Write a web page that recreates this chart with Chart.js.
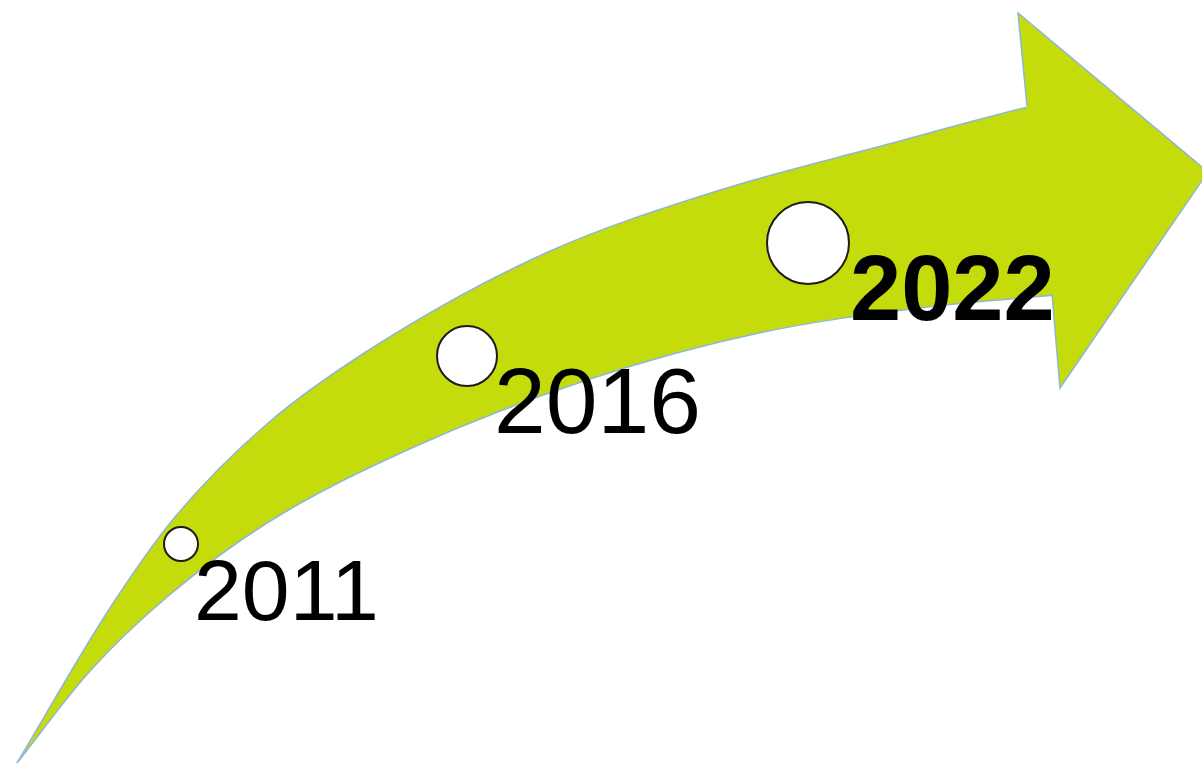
<!DOCTYPE html>
<html>
<head>
<meta charset="utf-8">
<script src="https://cdn.jsdelivr.net/npm/chart.js@4/dist/chart.umd.min.js"></script>
<style>
  html, body { margin: 0; padding: 0; background: #fff; }
  #wrap { width: 1202px; height: 765px; }
</style>
</head>
<body>
<div id="wrap"><canvas id="c" width="1202" height="765"></canvas></div>
<script>
// 弧形箭头的上下边缘（画面坐标，y 向下）
const upperEdgeX = [17, 110, 175, 267, 380, 548, 717, 885, 1028, 1056];
const upperEdgeY = [763, 608, 517, 424, 343, 252, 191, 145, 107, 101];
const lowerEdgeX = [17, 90, 167, 267, 414, 590, 759, 927, 1056];
const lowerEdgeY = [763, 671, 597, 523, 447, 379, 333, 307, 295];

// 箭头头部（多边形）
const headX = [1052, 1060, 1208, 1018, 1027];
const headY = [294, 388, 172, 13, 106];

// 时间节点
const years   = ["2011", "2016", "2022"];
const dotX    = [181, 467, 808];
const dotY    = [544, 356, 243];
const labelX  = [194, 494, 850];
const labelY  = [620, 433, 320];

const GREEN = "#c4dc0b";
const EDGE  = "#8fb6d6";
const BOTTOM = 765;

const toPoints = (xs, ys) => xs.map((x, i) => ({ x, y: ys[i] }));

/** 年份文字：按数据坐标经 scale 换算后绘制 */
const yearLabels = {
  id: "yearLabels",
  afterDatasetsDraw(chart) {
    const { ctx, scales } = chart;
    const fonts = ["86px", "93px", "bold 92px"];
    ctx.save();
    ctx.fillStyle = "#000";
    ctx.textAlign = "left";
    ctx.textBaseline = "alphabetic";
    years.forEach((txt, i) => {
      ctx.font = fonts[i] + " 'Liberation Sans', Arial, sans-serif";
      ctx.fillText(txt, scales.x.getPixelForValue(labelX[i]), scales.y.getPixelForValue(labelY[i]));
    });
    ctx.restore();
  }
};

new Chart(document.getElementById("c"), {
  type: "line",
  data: {
    datasets: [
      {
        // 上边缘以下先涂绿色
        label: "upper",
        data: toPoints(upperEdgeX, upperEdgeY),
        borderColor: EDGE,
        borderWidth: 1.5,
        backgroundColor: GREEN,
        pointRadius: 0,
        cubicInterpolationMode: "monotone",
        fill: { value: BOTTOM },
        order: 4
      },
      {
        // 下边缘以下再涂白色，留出弧带
        label: "lower",
        data: toPoints(lowerEdgeX, lowerEdgeY),
        borderColor: EDGE,
        borderWidth: 1.5,
        backgroundColor: "#ffffff",
        pointRadius: 0,
        cubicInterpolationMode: "monotone",
        fill: { value: BOTTOM },
        order: 3
      },
      {
        label: "head",
        data: toPoints(headX, headY),
        borderColor: EDGE,
        borderWidth: 1.5,
        backgroundColor: GREEN,
        pointRadius: 0,
        tension: 0,
        fill: "shape",
        order: 1
      },
      {
        label: "milestones",
        data: toPoints(dotX, dotY),
        showLine: false,
        pointRadius: [17, 30, 41],
        pointBackgroundColor: "#fff",
        pointBorderColor: "#1c1c1c",
        pointBorderWidth: 2,
        fill: false,
        order: 0
      }
    ]
  },
  options: {
    responsive: false,
    animation: false,
    events: [],
    layout: { padding: 0, autoPadding: false },
    plugins: {
      legend: { display: false },
      tooltip: { enabled: false },
      title: { display: false }
    },
    scales: {
      x: { type: "linear", min: 0, max: 1202, display: false },
      y: { type: "linear", min: 0, max: 765, reverse: true, display: false }
    }
  },
  plugins: [yearLabels]
});
</script>
</body>
</html>
